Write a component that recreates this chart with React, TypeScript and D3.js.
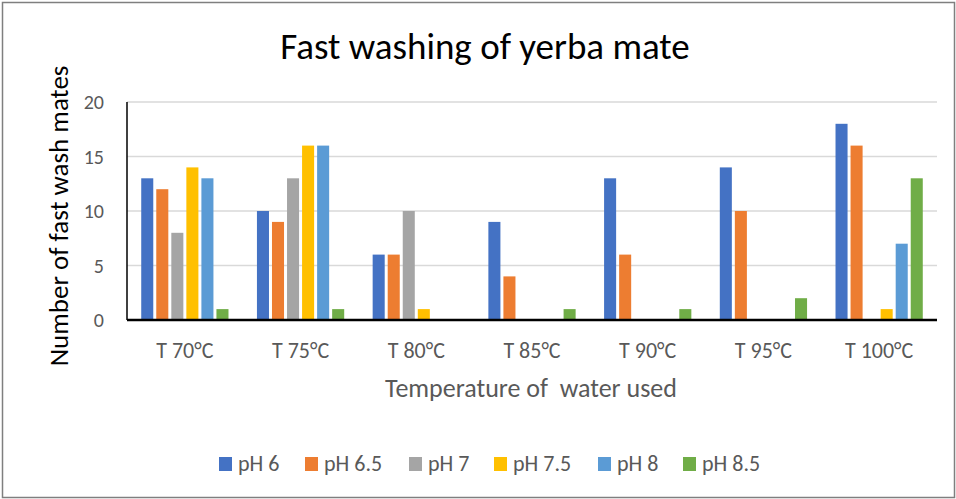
import React from "react";
import * as d3 from "d3";

const categories = ["T 70°C", "T 75°C", "T 80°C", "T 85°C", "T 90°C", "T 95°C", "T 100°C"];
const seriesNames = ["pH 6", "pH 6.5", "pH 7", "pH 7.5", "pH 8", "pH 8.5"];
const ph6 = [13, 10, 6, 9, 13, 14, 18];
const ph65 = [12, 9, 6, 4, 6, 10, 16];
const ph7 = [8, 13, 10, 0, 0, 0, 0];
const ph75 = [14, 16, 1, 0, 0, 0, 1];
const ph8 = [13, 16, 0, 0, 0, 0, 7];
const ph85 = [1, 1, 0, 1, 1, 2, 13];
const yTicks = [0, 5, 10, 15, 20];
const colors = ["#4472C4", "#ED7D31", "#A5A5A5", "#FFC000", "#5B9BD5", "#70AD47"];

const seriesValues = [ph6, ph65, ph7, ph75, ph8, ph85];

const W = 956;
const H = 499;
const FONT = "Carlito, Lato, 'Open Sans', sans-serif";

export default function App() {
  const left = 127;
  const right = 937;
  const top = 102;
  const bottom = 320;

  const x0 = d3.scaleBand<string>().domain(categories).range([left, right]).paddingInner(0.22).paddingOuter(0.11);
  const x1 = d3.scaleBand<string>().domain(seriesNames).range([0, x0.bandwidth()]).padding(0);
  const y = d3.scaleLinear().domain([0, 20]).range([bottom, top]);

  const legendX = [219, 305, 409, 494, 598, 683];

  return (
    <svg width={W} height={H} style={{ position: "absolute", left: 0, top: 0, fontFamily: FONT }}>
      <rect x={0} y={0} width={W} height={H} fill="#fff" />
      <rect x={2.5} y={2.5} width={W - 4} height={H - 4} fill="none" stroke="#7f7f7f" strokeWidth={1.5} />
      <text x={485} y={59} textAnchor="middle" fontSize={37} fill="#000">Fast washing of yerba mate</text>

      {yTicks.map((t) => (
        <g key={t}>
          {t > 0 && <line x1={left} x2={right} y1={y(t)} y2={y(t)} stroke="#d9d9d9" strokeWidth={1.5} />}
          <text x={104} y={y(t) + 7} textAnchor="end" fontSize={20} fill="#595959">{t}</text>
        </g>
      ))}

      {categories.map((c, ci) => (
        <g key={c}>
          {seriesNames.map((s, si) => {
            const v = seriesValues[si][ci];
            if (!v) return null;
            const bx = (x0(c) as number) + (x1(s) as number);
            return (
              <rect key={s} x={bx + 1.5} y={y(v)} width={x1.bandwidth() - 3} height={y(0) - y(v)} fill={colors[si]} />
            );
          })}
          <text x={(x0(c) as number) + x0.bandwidth() / 2} y={358} textAnchor="middle" fontSize={22} fill="#595959">{c}</text>
        </g>
      ))}

      <line x1={left} x2={left} y1={top} y2={bottom} stroke="#000" strokeWidth={1.5} />
      <line x1={left} x2={right} y1={bottom} y2={bottom} stroke="#000" strokeWidth={2.5} />

      <text x={531} y={397} textAnchor="middle" fontSize={26} fill="#595959" style={{ whiteSpace: "pre" }}>Temperature of  water used</text>
      <text transform={`translate(68,216) rotate(-90)`} textAnchor="middle" fontSize={27} fill="#000">Number of fast wash mates</text>

      {seriesNames.map((s, i) => (
        <g key={s}>
          <rect x={legendX[i]} y={457} width={13} height={14} fill={colors[i]} />
          <text x={legendX[i] + 19} y={471} fontSize={22} fill="#595959">{s}</text>
        </g>
      ))}
    </svg>
  );
}
